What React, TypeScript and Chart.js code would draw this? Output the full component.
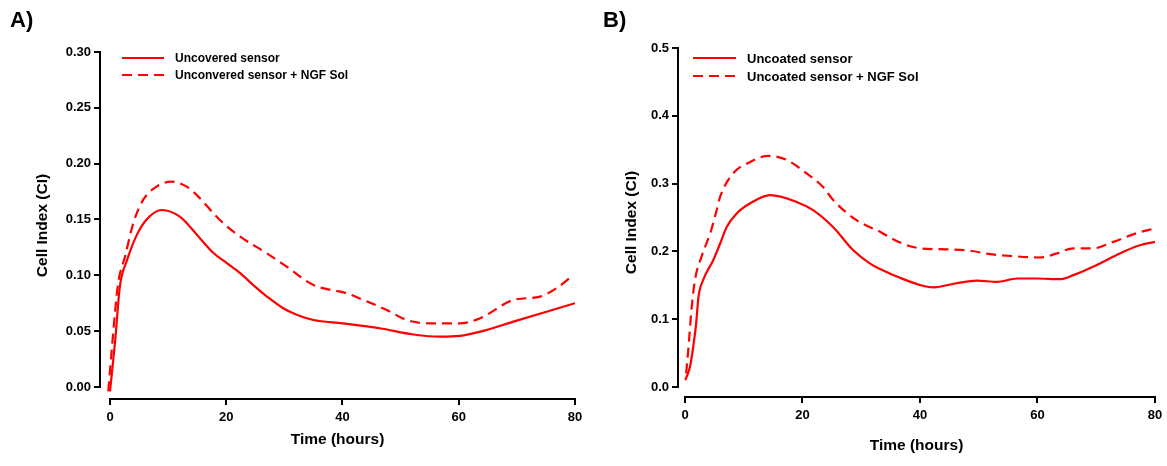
import React, { useEffect, useRef } from 'react';
import { Chart, registerables } from 'chart.js';

Chart.register(...registerables);

const FONT = '"Liberation Sans", Arial, Helvetica, sans-serif';
const RED = '#ff0000';

// ---------- shared ticks / labels ----------
const xTicks = [0, 20, 40, 60, 80];
const yTicksA = [0, 0.05, 0.1, 0.15, 0.2, 0.25, 0.3];
const yTicksB = [0, 0.1, 0.2, 0.3, 0.4, 0.5];

const labelsA = ['Uncovered sensor', 'Unconvered sensor + NGF Sol'];
const labelsB = ['Uncoated sensor', 'Uncoated sensor + NGF Sol'];

// ---------- Panel A data ----------
const timeA1 = [0, 0.9, 1.7, 2.9, 4.6, 6.3, 8.9, 12.0, 15.5, 17.8, 20.1, 22.4, 24.7, 27.0, 29.8, 32.7, 35, 40, 46.4, 52.2, 56.8, 60.2, 63.7, 69.4, 75.1, 80];
const valA1 = [-0.004, 0.042, 0.09, 0.113, 0.136, 0.15, 0.1585, 0.1525, 0.133, 0.12, 0.111, 0.102, 0.091, 0.081, 0.0705, 0.0636, 0.06, 0.057, 0.0526, 0.047, 0.045, 0.0457, 0.0495, 0.0585, 0.0674, 0.075];

const timeA2 = [-0.3, 0.3, 0.9, 1.4, 2.6, 4.0, 5.7, 8.0, 10.6, 13.2, 14.9, 18.9, 22.4, 27.0, 30.4, 35, 40.7, 43.6, 47.6, 51, 55, 60.2, 63.7, 69.4, 74, 76.8, 79.4];
const valA2 = [-0.004, 0.033, 0.069, 0.093, 0.117, 0.1466, 0.1675, 0.1794, 0.1839, 0.1794, 0.172, 0.1495, 0.1346, 0.1197, 0.1077, 0.0913, 0.0839, 0.0779, 0.069, 0.06, 0.057, 0.057, 0.0615, 0.0779, 0.0809, 0.0884, 0.0988];

// ---------- Panel B data ----------
const timeB1 = [0.05, 0.85, 1.4, 1.9, 2.3, 3.1, 4.8, 6.0, 7.1, 8.8, 11.1, 14.5, 19, 21.8, 25.2, 28.6, 31.5, 33.2, 36.6, 40.6, 42.3, 46.2, 49.7, 53.1, 56.5, 59.9, 63.8, 66.1, 70.1, 74.0, 77.4, 80];
const valB1 = [0.01, 0.03, 0.059, 0.094, 0.133, 0.158, 0.187, 0.212, 0.236, 0.256, 0.271, 0.283, 0.273, 0.261, 0.236, 0.202, 0.182, 0.174, 0.161, 0.149, 0.147, 0.153, 0.157, 0.155, 0.16, 0.16, 0.159, 0.165, 0.18, 0.197, 0.209, 0.214];

const timeB2 = [0.2, 0.6, 1.1, 1.7, 2.8, 4.3, 5.4, 6.0, 8.2, 11.1, 14.2, 17.3, 20.7, 23.5, 25.2, 29.2, 33.2, 36.6, 40, 44.5, 48.5, 51.9, 55.9, 60.4, 63.3, 66.1, 69.5, 72.9, 76.9, 80];
const valB2 = [0.02, 0.059, 0.114, 0.158, 0.192, 0.227, 0.261, 0.281, 0.315, 0.332, 0.341, 0.335, 0.315, 0.295, 0.276, 0.246, 0.229, 0.213, 0.2046, 0.203, 0.201, 0.196, 0.193, 0.191, 0.197, 0.2046, 0.2046, 0.214, 0.227, 0.234];

const pts = (xs: number[], ys: number[]) => xs.map((x, i) => ({ x, y: ys[i] }));

type Panel = {
  tag: string;
  series: { t: number[]; v: number[]; label: string; dash: number[] }[];
  yTicks: number[];
  decimals: number;
  xMin: number;
  yMin: number;
  yMax: number;
  padding: { left: number; right: number; top: number; bottom: number };
  yWidth: number;
  xHeight: number;
  legend: { x0: number; x1: number; tx: number; rows: number[]; font: number };
  tagX: number;
};

const panelA: Panel = {
  tag: 'A)',
  series: [
    { t: timeA1, v: valA1, label: labelsA[0], dash: [] },
    { t: timeA2, v: valA2, label: labelsA[1], dash: [10, 6] },
  ],
  yTicks: yTicksA,
  decimals: 2,
  xMin: -1.72,
  yMin: -0.0108,
  yMax: 0.3,
  padding: { left: 33, right: 8, top: 52, bottom: 17 },
  yWidth: 67,
  xHeight: 50,
  legend: { x0: 122, x1: 164, tx: 175, rows: [58, 75], font: 12 },
  tagX: 10,
};

const panelB: Panel = {
  tag: 'B)',
  series: [
    { t: timeB1, v: valB1, label: labelsB[0], dash: [] },
    { t: timeB2, v: valB2, label: labelsB[1], dash: [10, 6] },
  ],
  yTicks: yTicksB,
  decimals: 1,
  xMin: -1.19,
  yMin: -0.01475,
  yMax: 0.5,
  padding: { left: 39, right: 12, top: 48, bottom: 11 },
  yWidth: 56,
  xHeight: 58,
  legend: { x0: 110, x1: 153, tx: 164, rows: [58, 76], font: 13 },
  tagX: 20,
};

function makeChart(canvas: HTMLCanvasElement, p: Panel) {
  const extras = {
    id: 'extras_' + p.tag,
    beforeDatasetsDraw(chart: any) {
      const ctx = chart.ctx;
      const xs = chart.scales.x;
      const ys = chart.scales.y;
      const area = chart.chartArea;
      ctx.save();
      ctx.strokeStyle = '#000';
      ctx.lineWidth = 2;
      ctx.lineCap = 'butt';
      const yl = Math.round(area.left);
      ctx.beginPath();
      ctx.moveTo(yl, ys.getPixelForValue(0) + 1);
      ctx.lineTo(yl, ys.getPixelForValue(p.yMax) - 1);
      ctx.stroke();
      const xb = Math.round(area.bottom);
      ctx.beginPath();
      ctx.moveTo(xs.getPixelForValue(0) - 1, xb);
      ctx.lineTo(xs.getPixelForValue(80) + 1, xb);
      ctx.stroke();
      ctx.restore();
    },
    afterDraw(chart: any) {
      const ctx = chart.ctx;
      ctx.save();
      ctx.fillStyle = '#000';
      ctx.font = `bold 22px ${FONT}`;
      ctx.textBaseline = 'alphabetic';
      ctx.textAlign = 'left';
      ctx.fillText(p.tag, p.tagX, 27);
      const lg = p.legend;
      chart.data.datasets.forEach((ds: any, i: number) => {
        const y = lg.rows[i];
        ctx.strokeStyle = ds.borderColor;
        ctx.lineWidth = ds.borderWidth;
        ctx.setLineDash(ds.borderDash || []);
        ctx.beginPath();
        ctx.moveTo(lg.x0, y);
        ctx.lineTo(lg.x1, y);
        ctx.stroke();
        ctx.setLineDash([]);
        ctx.fillStyle = '#000';
        ctx.font = `bold ${lg.font}px ${FONT}`;
        ctx.textBaseline = 'middle';
        ctx.fillText(ds.label, lg.tx, y + 1);
      });
      ctx.restore();
    },
  };

  return new Chart(canvas, {
    type: 'line',
    data: {
      datasets: p.series.map((s) => ({
        label: s.label,
        data: pts(s.t, s.v),
        borderColor: RED,
        backgroundColor: RED,
        borderWidth: 2.2,
        borderDash: s.dash,
        pointRadius: 0,
        fill: false,
        cubicInterpolationMode: 'monotone' as const,
      })),
    },
    options: {
      responsive: false,
      animation: false,
      devicePixelRatio: 1,
      layout: { padding: p.padding, autoPadding: false },
      plugins: {
        legend: { display: false },
        tooltip: { enabled: false },
        title: { display: false },
      },
      scales: {
        x: {
          type: 'linear',
          min: p.xMin,
          max: 80,
          afterBuildTicks: (s: any) => {
            s.ticks = xTicks.map((v) => ({ value: v }));
          },
          afterFit: (s: any) => {
            s.height = p.xHeight;
            s.paddingLeft = 0;
            s.paddingRight = 0;
          },
          border: { display: false },
          grid: {
            display: true,
            drawOnChartArea: false,
            drawTicks: true,
            tickLength: 6,
            color: '#000',
            lineWidth: 2,
          },
          ticks: {
            color: '#000',
            font: { family: FONT, size: 13, weight: 'bold' },
            padding: 5,
            maxRotation: 0,
            autoSkip: false,
            callback: (v: any) => String(v),
          },
          title: {
            display: true,
            text: 'Time (hours)',
            color: '#000',
            font: { family: FONT, size: 15.5, weight: 'bold' },
            padding: { top: 0, bottom: 0 },
          },
        },
        y: {
          type: 'linear',
          min: p.yMin,
          max: p.yMax,
          afterBuildTicks: (s: any) => {
            s.ticks = p.yTicks.map((v) => ({ value: v }));
          },
          afterFit: (s: any) => {
            s.width = p.yWidth;
            s.paddingTop = 0;
            s.paddingBottom = 0;
          },
          border: { display: false },
          grid: {
            display: true,
            drawOnChartArea: false,
            drawTicks: true,
            tickLength: 6,
            color: '#000',
            lineWidth: 2,
          },
          ticks: {
            color: '#000',
            font: { family: FONT, size: 13, weight: 'bold' },
            padding: 3,
            autoSkip: false,
            callback: (v: any) => Number(v).toFixed(p.decimals),
          },
          title: {
            display: true,
            text: 'Cell Index (CI)',
            color: '#000',
            font: { family: FONT, size: 15.5, weight: 'bold' },
            padding: { top: 0, bottom: 0 },
          },
        },
      },
    },
    plugins: [extras],
  } as any);
}

function PanelChart({ p, left, width }: { p: Panel; left: number; width: number }) {
  const ref = useRef<HTMLCanvasElement>(null);
  useEffect(() => {
    if (!ref.current) return;
    const c = makeChart(ref.current, p);
    return () => c.destroy();
  }, [p]);
  return (
    <canvas
      ref={ref}
      width={width}
      height={466}
      style={{ position: 'absolute', left, top: 0, width, height: 466 }}
    />
  );
}

export default function App() {
  return (
    <div style={{ position: 'absolute', left: 0, top: 0, width: 1167, height: 466, background: '#fff' }}>
      <PanelChart p={panelA} left={0} width={583} />
      <PanelChart p={panelB} left={583} width={584} />
    </div>
  );
}
